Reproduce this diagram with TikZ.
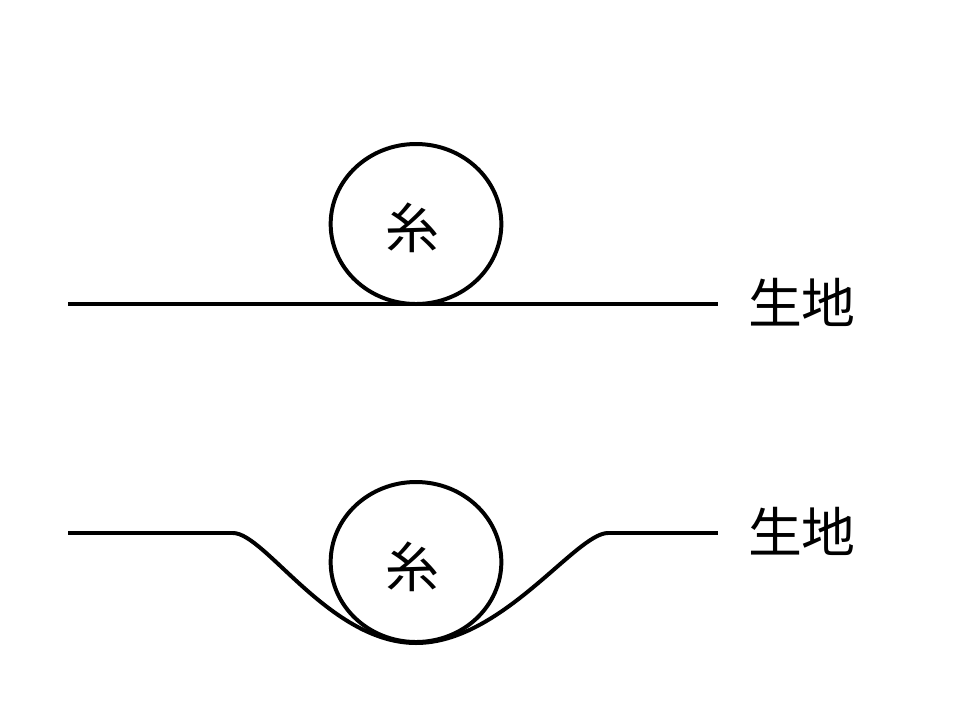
\documentclass[tikz,border=0pt]{standalone}
\usepackage{fontspec}
\newfontfamily\cjk{Noto Sans CJK JP}
\usepackage{tikz}
\usetikzlibrary{shapes.geometric}

\begin{document}
\begin{tikzpicture}[x=0.03cm, y=-0.03cm, line width=3.4pt,
	every node/.style={font=\cjk\fontsize{46pt}{50pt}\selectfont, inner sep=0pt}]
	\tikzset{yarn/.style={ellipse, draw, minimum width=5.12cm, minimum height=4.8cm}}
	\useasboundingbox (0,0) rectangle (960,719);
	\node[yarn] (yarn1) at (416,224) {};
	\node[yarn] (yarn2) at (416,562) {};
	\node (thread1) at (412,228) {糸};
	\node (thread2) at (412,567) {糸};
	\node[anchor=west] (cloth1) at (746,302) {生地};
	\node[anchor=west] (cloth2) at (746,531) {生地};
	\coordinate (a1) at (68,304);
	\coordinate (a2) at (718,304);
	\coordinate (b1) at (68,533);
	\coordinate (b2) at (233,533);
	\coordinate (b3) at (416,643);
	\coordinate (b4) at (608,533);
	\coordinate (b5) at (718,533);
	\foreach \from/\to in {a1/a2, b1/b2, b4/b5}
	\draw (\from) -- (\to);
	\draw (b2) .. controls (265,533) and (330,643) .. (b3)
		.. controls (502,643) and (576,533) .. (b4);
\end{tikzpicture}
\end{document}
